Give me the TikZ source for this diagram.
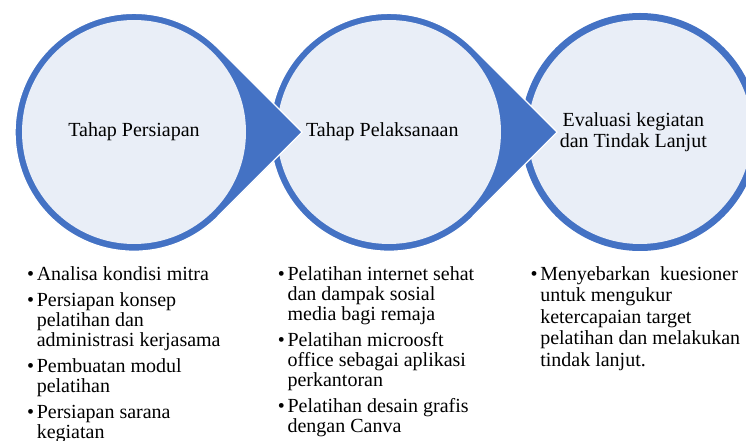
\documentclass[tikz,border=0pt]{standalone}
\usepackage{fontspec}
\setmainfont{Liberation Serif}
\usepackage{xcolor}
\usepackage{tikz}
\definecolor{stageblue}{HTML}{4472C4}
\definecolor{stagefill}{HTML}{E9EEF7}
\newcommand{\stagebullet}{\llap{\textbullet\hspace{2pt}}}

\begin{document}
\begin{tikzpicture}[x=0.75pt, y=-0.75pt,
    stagelabel/.style={align=center, inner sep=0pt, font=\fontsize{15}{16.2}\selectfont},
    bulletlist/.style={anchor=north west, align=left, inner sep=0pt, font=\fontsize{15}{15}\selectfont}]
      \useasboundingbox (0,0) rectangle (746,441);
      \clip (0,0) rectangle (746,441);
      \coordinate (c1) at (134,132);
      \coordinate (c2) at (389,132);
      \coordinate (c3) at (640,132);
      \fill[stageblue] (c3) circle (119);
      \fill[stagefill] (c3) circle (112);
      \draw[white, line width=1pt, fill=stageblue] (c2) ++(45:119) -- ++(84,-84) -- ++(-84,-84) arc[start angle=-45, end angle=-315, radius=119] -- cycle;
      \fill[stagefill] (c2) circle (112);
      \draw[white, line width=1pt, fill=stageblue] (c1) ++(45:119) -- ++(84,-84) -- ++(-84,-84) arc[start angle=-45, end angle=-315, radius=119] -- cycle;
      \fill[stagefill] (c1) circle (112);
      \node[stagelabel] (persiapan) at (c1) {Tahap Persiapan};
      \node[stagelabel] (pelaksanaan) at ([xshift=-5]c2) {Tahap Pelaksanaan};
      \node[stagelabel] (evaluasi) at ([xshift=-5]c3) {Evaluasi kegiatan\\dan Tindak Lanjut};
      \node[bulletlist] (persiapanlist) at (36.5,266) {\stagebullet Analisa kondisi mitra\\[4.5pt]
        \stagebullet Persiapan konsep\\ pelatihan dan\\ administrasi kerjasama\\[4.5pt]
        \stagebullet Pembuatan modul\\ pelatihan\\[4.5pt]
        \stagebullet Persiapan sarana\\ kegiatan};
      \node[bulletlist] (pelaksanaanlist) at (287.3,266) {\stagebullet Pelatihan internet sehat\\ dan dampak sosial\\ media bagi remaja\\[4.5pt]
        \stagebullet Pelatihan microosft\\ office sebagai aplikasi\\ perkantoran\\[4.5pt]
        \stagebullet Pelatihan desain grafis\\ dengan Canva};
      \node[bulletlist, font=\fontsize{15}{16.1}\selectfont] (evaluasilist) at (540,266) {\stagebullet Menyebarkan\ \ kuesioner\\ untuk mengukur\\ ketercapaian target\\ pelatihan dan melakukan\\ tindak lanjut.};
    \end{tikzpicture}
\end{document}
